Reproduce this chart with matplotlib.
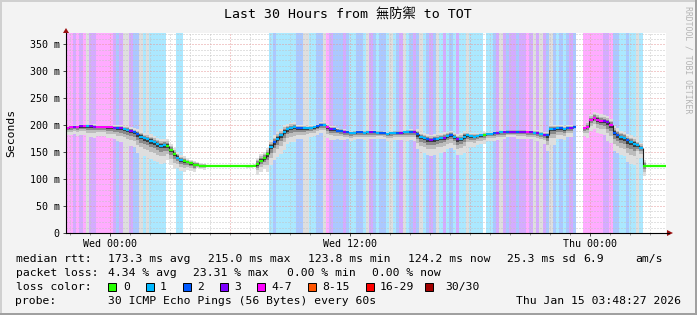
import numpy as np
import matplotlib.pyplot as plt
from matplotlib.colors import to_rgb
from matplotlib.patches import Rectangle, Polygon
from matplotlib.collections import LineCollection

plt.rcParams['font.family'] = ['DejaVu Sans Mono', 'Noto Sans CJK TC']

# window start in hours since Tue 00:00 (Tue 21:48), 10 minute steps
t_start = 21.808
step_h = 1 / 6
span_h = 30

# median rtt per 10 minute step (ms), nan = no data
median_ms = [
    195, 196, 197, 197, 198, 198, 198, 198, 197, 197,
    197, 197, 196, 196, 195, 195, 194, 192, 191, 189,
    187, 183, 179, 176, 174, 171, 168, 165, 162, 163,
    162, 154, 146, 140, 135, 133, 131, 129, 126, 127,
    125, 124, 124, 124, 124, 124, 124, 124, 124, 124,
    124, 124, 124, 124, 124, 124, 125, 128, 134, 139,
    146, 160, 169, 175, 181, 188, 192, 195, 196, 194,
    194, 194, 194, 195, 196, 198, 201, 200, 196, 193,
    192, 190, 189, 188, 187, 185, 186, 187, 187, 186,
    187, 187, 187, 186, 186, 185, 184, 185, 186, 186,
    186, 187, 187, 188, 187, 183, 178, 176, 174, 173,
    174, 175, 176, 177, 180, 182, 178, 174, 175, 179,
    181, 180, 179, 180, 181, 182, 184, 184, 185, 186,
    187, 187, 188, 188, 188, 188, 188, 188, 187, 187,
    186, 186, 184, 182, 181, 193, 193, 194, 194, 192,
    195, 195, 196, np.nan, np.nan, 194, 197, 210, 214, 210,
    208, 207, 205, 200, 186, 182, 178, 176, 172, 169,
    166, 163, 158, 125, 124, 124, 124, 124, 124, 124,
]

# loss class per step: 0,1,2,3,4 (=4-7), g = grey band, - = no data
loss_code = (
    "443434g334" "4444323gg3" "22g1g11111" "0001100000" "0000000000"
    "0000000000" "0121111112" "2gg1122g43" "2223211221" "g321221g12"
    "3g1232g123" "2g13121311" "g111101123" "g323323343" "g3g32g2121"
    "232--44444" "4334221121" "1g10000000"
)

# smoke spread below / above the median per half hour (ms)
spread_dn = [10, 12, 15, 12, 15, 18, 20, 25, 25, 25,
             20, 15, 10, 5, 1, 1, 1, 1, 2, 15,
             25, 25, 20, 15, 12, 12, 15, 12, 10, 10,
             10, 8, 10, 10, 12, 20, 22, 20, 18, 22,
             15, 12, 10, 10, 8, 10, 10, 12, 22, 15,
             12, 10, 15, 18, 25, 25, 30, 14, 1, 1]
spread_up = [3, 3, 4, 3, 4, 5, 6, 8, 10, 10,
             10, 8, 6, 4, 1, 1, 1, 1, 2, 10,
             10, 10, 8, 5, 4, 4, 5, 4, 3, 3,
             3, 3, 3, 3, 4, 8, 8, 8, 6, 8,
             5, 4, 3, 3, 3, 3, 3, 4, 6, 5,
             4, 3, 8, 10, 10, 10, 10, 8, 1, 1]

xtick_hours = [24, 36, 48]
xtick_labels = ['Wed 00:00', 'Wed 12:00', 'Thu 00:00']
ytick_vals = [0, 50, 100, 150, 200, 250, 300, 350]
ytick_labels = ['0', '50 m', '100 m', '150 m', '200 m', '250 m', '300 m', '350 m']

row_rtt = [('median rtt:', 15.5), ('173.3 ms avg', 107.5), ('215.0 ms max', 207.5),
           ('123.8 ms min', 308), ('124.2 ms now', 408), ('25.3 ms sd', 507),
           ('6.9', 583), ('am/s', 635)]
row_loss = [('packet loss:', 15.5), ('4.34 % avg', 107.5), ('23.31 % max', 193),
            ('0.00 % min', 287), ('0.00 % now', 372)]
loss_labels = ['0', '1', '2', '3', '4-7', '8-15', '16-29', '30/30']
loss_colors = ['#26ff00', '#00b8ff', '#0059ff', '#7e00ff', '#ff00ff',
               '#ff5500', '#ff0000', '#a10000']

bg_colors = {'1': '#abe8ff', '2': '#abc8ff', '3': '#d5abff', '4': '#ffabff', 'g': '#dedede'}
line_colors = {'0': '#26ff00', '1': '#00b8ff', '2': '#0059ff', '3': '#7e00ff',
               '4': '#ff00ff', 'g': '#00b8ff'}

W, H = 697, 315
FS = 8.2


def fx(x):
    return x / W


def fy(y):
    return 1 - y / H


fig = plt.figure(figsize=(W / 100, H / 100), dpi=100)
fig.patch.set_facecolor('#f3f3f3')
ax = fig.add_axes([fx(66), fy(233), 600 / W, 200 / H])
ymax = 371

# loss background bands
bg = np.array([to_rgb(bg_colors.get(c, 'white')) for c in loss_code])[None, :, :]
ax.imshow(bg, extent=[t_start, t_start + span_h, 0, ymax], aspect='auto',
          interpolation='nearest', zorder=0)

# grid
for v in range(10, 371, 10):
    if v % 50:
        ax.axhline(v, color='#c4c4c4', lw=0.72, ls=(0, (1, 2)), zorder=1)
for v in range(50, 371, 50):
    ax.axhline(v, color='#e69a9a', lw=0.72, ls=(0, (1, 2)), zorder=1.1)
for h in range(22, 52):
    if h % 6:
        ax.axvline(h, color='#c4c4c4', lw=0.72, ls=(0, (1, 2)), zorder=1)
    else:
        ax.axvline(h, color='#e69a9a', lw=0.72, ls=(0, (1, 2)), zorder=1.1)

# smoke
med = np.array(median_ms, dtype=float)
dn = np.repeat(spread_dn, 3).astype(float)
up = np.repeat(spread_up, 3).astype(float)
edges = t_start + np.arange(len(med) + 1) * step_h
ok = ~np.isnan(med)
okx = np.append(ok, ok[-1])
layers = [(1.35, 1.2, '#dedede'), (0.8, 0.8, '#bcbcbc'),
          (0.45, 0.5, '#8a8a8a'), (0.2, 0.25, '#3a3a3a')]
for f_dn, f_up, col in layers:
    lo = np.append(med - dn * f_dn, med[-1] - dn[-1] * f_dn)
    hi = np.append(med + up * f_up, med[-1] + up[-1] * f_up)
    ax.fill_between(edges, np.nan_to_num(lo), np.nan_to_num(hi), where=okx,
                    step='post', color=col, lw=0, zorder=2)

# median line coloured by loss
segs, cols, vsegs = [], [], []
for i, v in enumerate(med):
    if np.isnan(v):
        continue
    segs.append([(edges[i], v), (edges[i + 1], v)])
    cols.append(line_colors[loss_code[i]])
    if i > 0 and not np.isnan(med[i - 1]):
        vsegs.append([(edges[i], med[i - 1]), (edges[i], v)])
ax.add_collection(LineCollection(vsegs, colors='#202020', linewidths=0.8, zorder=3))
ax.add_collection(LineCollection(segs, colors=cols, linewidths=1.6, capstyle='butt', zorder=4))

ax.set_xlim(t_start, t_start + span_h)
ax.set_ylim(0, ymax)
ax.set_xticks(xtick_hours)
ax.set_xticklabels(xtick_labels)
ax.set_xticks(np.arange(22, 52), minor=True)
ax.set_yticks(ytick_vals)
ax.set_yticklabels(ytick_labels)
ax.tick_params(axis='both', which='major', labelsize=7.2, length=2, width=0.7,
               color='#444444', pad=2.6)
ax.tick_params(axis='x', which='minor', length=1.5, width=0.6, color='#888888')
for s in ['top', 'right']:
    ax.spines[s].set_visible(False)
for s in ['bottom', 'left']:
    ax.spines[s].set_linewidth(0.8)
    ax.spines[s].set_zorder(5)

# axis arrows
fig.add_artist(plt.Line2D([fx(666), fx(669)], [fy(233), fy(233)], color='black', lw=0.8))
fig.add_artist(Polygon([(fx(667), fy(230)), (fx(667), fy(236)), (fx(673), fy(233))],
                       closed=True, color='#9a1010', lw=0))
fig.add_artist(Polygon([(fx(63), fy(33)), (fx(69), fy(33)), (fx(66), fy(28))],
                       closed=True, color='#9a1010', lw=0))

# titles
fig.text(fx(348), fy(15), 'Last 30 Hours from 無防禦 to TOT', ha='center', va='center',
         fontsize=9.5)
fig.text(fx(11), fy(133), 'Seconds', rotation=90, ha='center', va='center', fontsize=FS)
fig.text(fx(688), fy(60), 'RRDTOOL / TOBI OETIKER', rotation=270, ha='center', va='center',
         fontsize=5.9, color='#b4b4b4')

# legend
for txt, x in row_rtt:
    fig.text(fx(x), fy(259), txt, ha='left', va='center', fontsize=FS)
for txt, x in row_loss:
    fig.text(fx(x), fy(273), txt, ha='left', va='center', fontsize=FS)
fig.text(fx(15.5), fy(287), 'loss color:', ha='left', va='center', fontsize=FS)
box_x = [108, 145.5, 183, 220, 256.5, 307.5, 366, 425]
lab_x = [123, 160, 197, 234, 271, 322, 380, 445]
for lab, col, bx, lx in zip(loss_labels, loss_colors, box_x, lab_x):
    fig.add_artist(Rectangle((fx(bx), fy(291)), 8 / W, 8 / H, facecolor=col,
                             edgecolor='black', lw=0.7))
    fig.text(fx(lx), fy(287), lab, ha='left', va='center', fontsize=FS)
fig.text(fx(15.5), fy(301), 'probe:', ha='left', va='center', fontsize=FS)
fig.text(fx(107.5), fy(301), '30 ICMP Echo Pings (56 Bytes) every 60s', ha='left',
         va='center', fontsize=FS)
fig.text(fx(681), fy(301), 'Thu Jan 15 03:48:27 2026', ha='right', va='center', fontsize=FS)

# frame shading
fig.add_artist(Rectangle((0, fy(2)), 1, 2 / H, color='#d0d0d0', lw=0))
fig.add_artist(Rectangle((0, 0), 2 / W, 1, color='#d0d0d0', lw=0))
fig.add_artist(Rectangle((0, 0), 1, 2 / H, color='#a0a0a0', lw=0))
fig.add_artist(Rectangle((fx(695), 0), 2 / W, 1, color='#a0a0a0', lw=0))

fig.savefig('out.png', dpi=100, facecolor=fig.get_facecolor())
